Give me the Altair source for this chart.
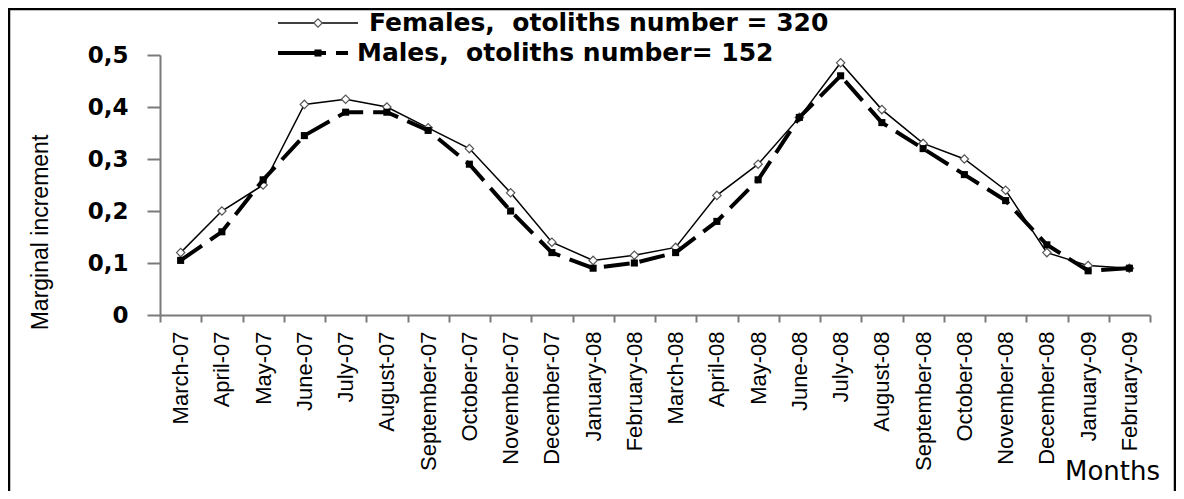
import altair as alt
import pandas as pd

months = ["March-07", "April-07", "May-07", "June-07", "July-07", "August-07",
          "September-07", "October-07", "November-07", "December-07", "January-08",
          "February-08", "March-08", "April-08", "May-08", "June-08", "July-08",
          "August-08", "September-08", "October-08", "November-08", "December-08",
          "January-09", "February-09"]
females = [0.12, 0.20, 0.25, 0.405, 0.415, 0.40, 0.36, 0.32, 0.235, 0.14, 0.105, 0.115,
           0.13, 0.23, 0.29, 0.38, 0.485, 0.395, 0.33, 0.30, 0.24, 0.12, 0.095, 0.09]
males = [0.105, 0.16, 0.26, 0.345, 0.39, 0.39, 0.355, 0.29, 0.20, 0.12, 0.09, 0.10,
         0.12, 0.18, 0.26, 0.38, 0.46, 0.37, 0.32, 0.27, 0.22, 0.135, 0.085, 0.09]
y_ticks = [0, 0.1, 0.2, 0.3, 0.4, 0.5]
NB = "\u00a0"
legend_labels = [
    "Females," + NB * 2 + "otoliths" + NB + "number" + NB + "=" + NB + "320",
    "Males," + NB * 2 + "otoliths" + NB + "number=" + NB + "152",
]

df_f = pd.DataFrame({"month": months, "value": females})
df_m = pd.DataFrame({"month": months, "value": males})
one = pd.DataFrame({"a": [0]})

W, H = 990, 260
BOLD = "DejaVu Sans"
ARIAL = "Liberation Sans"
GREY = "#7a7a7a"

x_enc = alt.X(
    "month:N", sort=months, bandPosition=0.5,
    scale=alt.Scale(type="band", paddingInner=0, paddingOuter=0),
    axis=alt.Axis(
        title="Months", titleFont=BOLD, titleFontSize=26, titleFontWeight="normal",
        titleColor="black", titleX=952, titleY=164, titleAlign="center",
        titleBaseline="alphabetic",
        labelAngle=-90, labelAlign="right", labelBaseline="middle",
        labelFont=ARIAL, labelFontSize=22, labelColor="black",
        labelPadding=9, tickSize=7, tickBand="extent", tickColor=GREY,
        domainColor=GREY, domainWidth=2, tickWidth=2, grid=False,
    ),
)
y_enc = alt.Y(
    "value:Q", scale=alt.Scale(domain=[0, 0.5]),
    axis=alt.Axis(
        values=y_ticks,
        labelExpr="datum.value == 0 ? '0' : replace(format(datum.value, '.1f'), '.', ',')",
        labelFont=BOLD, labelFontWeight="bold", labelFontSize=23, labelColor="black",
        tickSize=13, labelPadding=19, grid=False, tickColor=GREY,
        domainColor=GREY, domainWidth=2, tickWidth=2,
        title="Marginal increment", titleFont=ARIAL, titleFontSize=23,
        titleFontWeight="normal", titleColor="black", titleX=-120, titleY=177,
        titleAngle=-90, titleAlign="center", titleBaseline="middle",
    ),
)

f_line = alt.Chart(df_f).mark_line(color="black", strokeWidth=1.5).encode(x=x_enc, y=y_enc)
f_pts = alt.Chart(df_f).mark_point(shape="diamond", filled=True, fill="white", stroke="#555",
                                   strokeWidth=1.2, size=70, opacity=1).encode(x=x_enc, y=y_enc)
m_line = alt.Chart(df_m).mark_line(color="black", strokeWidth=4, strokeDash=[26, 10]).encode(x=x_enc, y=y_enc)
m_pts = alt.Chart(df_m).mark_point(shape="square", filled=True, color="black", size=50,
                                   opacity=1).encode(x=x_enc, y=y_enc)

# legend (drawn above the plot area)
leg_f_line = alt.Chart(one).mark_rule(color="black", strokeWidth=1.5).encode(
    x=alt.value(118), x2=alt.value(198), y=alt.value(-32))
leg_f_pt = alt.Chart(one).mark_point(shape="diamond", filled=True, fill="white", stroke="#555",
                                     strokeWidth=1.2, size=70, opacity=1).encode(
    x=alt.value(158), y=alt.value(-32))
leg_m_line = alt.Chart(one).mark_rule(color="black", strokeWidth=4).encode(
    x=alt.value(118), x2=alt.value(166), y=alt.value(-2))
leg_m_dash = alt.Chart(one).mark_rule(color="black", strokeWidth=4).encode(
    x=alt.value(176), x2=alt.value(188), y=alt.value(-2))
leg_m_pt = alt.Chart(one).mark_point(shape="square", filled=True, color="black", size=50,
                                     opacity=1).encode(x=alt.value(158), y=alt.value(-2))
leg_t1 = alt.Chart(one).mark_text(align="left", baseline="middle", font=BOLD, fontWeight="bold",
                                  fontSize=25, color="black", text=legend_labels[0]).encode(
    x=alt.value(209), y=alt.value(-32))
leg_t2 = alt.Chart(one).mark_text(align="left", baseline="middle", font=BOLD, fontWeight="bold",
                                  fontSize=25, color="black", text=legend_labels[1]).encode(
    x=alt.value(197), y=alt.value(-2))

frame = alt.Chart(one).mark_rect(fill=None, stroke="black", strokeWidth=2.5).encode(
    x=alt.value(-151), x2=alt.value(1015), y=alt.value(-46), y2=alt.value(450))

chart = alt.layer(
    f_line, f_pts, m_line, m_pts,
    leg_f_line, leg_f_pt, leg_m_line, leg_m_dash, leg_m_pt, leg_t1, leg_t2, frame,
).properties(
    width=W, height=H,
    autosize=alt.AutoSizeParams(type="none"),
    padding={"left": 152, "top": 47, "right": 26, "bottom": 176},
    background="white",
).configure_view(stroke=None)

chart.save("out.html", embed_options={"renderer": "svg", "actions": False})
